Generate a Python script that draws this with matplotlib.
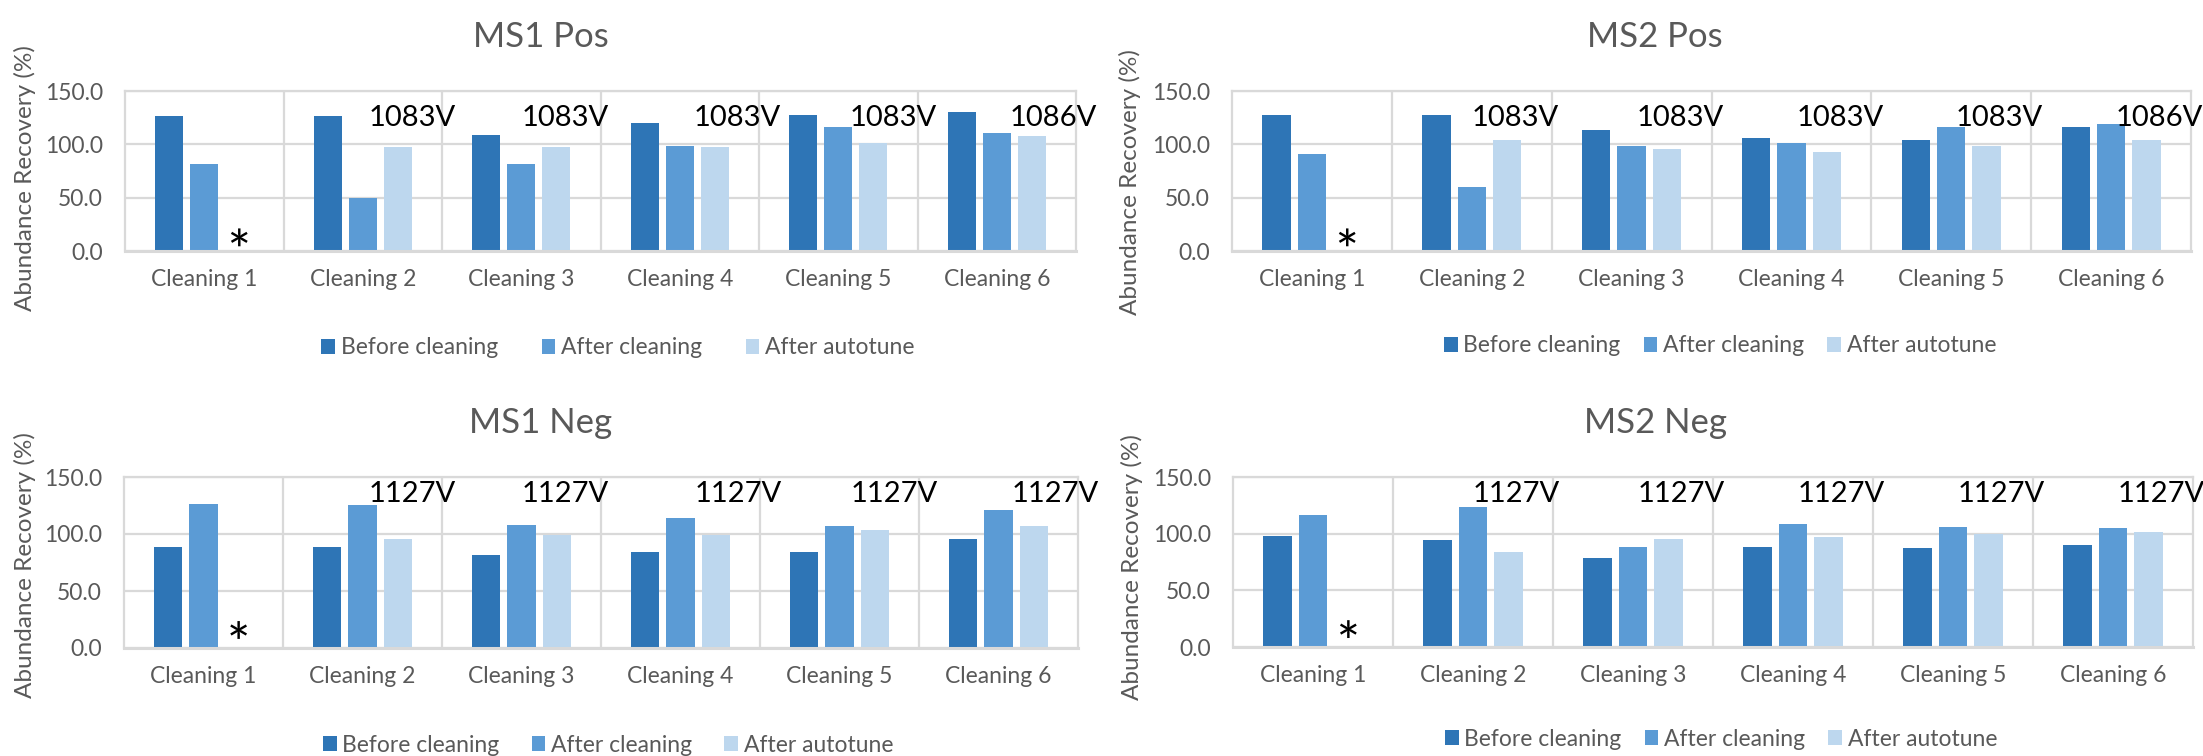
import numpy as np
import matplotlib.pyplot as plt
from matplotlib.patches import Patch, PathPatch
from matplotlib.path import Path
from matplotlib.textpath import TextPath
from matplotlib.font_manager import FontProperties
from matplotlib.transforms import Affine2D, ScaledTranslation

plt.rcParams['font.family'] = ['Lato', 'DejaVu Sans']

# ---- data ----
cleanings = ['Cleaning 1', 'Cleaning 2', 'Cleaning 3', 'Cleaning 4', 'Cleaning 5', 'Cleaning 6']
series_names = ['Before cleaning', 'After cleaning', 'After autotune']
y_ticks = [0, 50, 100, 150]

ms1_pos_before = [126.6, 126.6, 108.4, 120.0, 127.8, 130.4]
ms1_pos_after = [81.3, 50.0, 81.3, 98.1, 116.0, 110.6]
ms1_pos_autotune = [np.nan, 97.2, 97.2, 97.2, 101.6, 107.8]
ms1_pos_volts = [None, '1083V', '1083V', '1083V', '1083V', '1086V']

ms2_pos_before = [127.8, 127.8, 113.4, 106.3, 104.4, 116.3]
ms2_pos_after = [90.9, 60.3, 98.1, 101.6, 116.3, 119.4]
ms2_pos_autotune = [np.nan, 104.4, 95.3, 93.1, 98.4, 103.8]
ms2_pos_volts = [None, '1083V', '1083V', '1083V', '1083V', '1086V']

ms1_neg_before = [89.0, 88.7, 82.0, 84.6, 84.6, 96.0]
ms1_neg_after = [126.4, 125.8, 108.3, 113.8, 106.8, 121.4]
ms1_neg_autotune = [np.nan, 95.7, 99.5, 99.2, 103.3, 106.8]
ms1_neg_volts = [None, '1127V', '1127V', '1127V', '1127V', '1127V']

ms2_neg_before = [97.6, 94.7, 78.8, 88.5, 87.1, 89.7]
ms2_neg_after = [116.2, 123.8, 88.5, 108.8, 105.9, 104.7]
ms2_neg_autotune = [np.nan, 83.8, 95.3, 97.1, 100.0, 101.2]
ms2_neg_volts = [None, '1127V', '1127V', '1127V', '1127V', '1127V']

# ---- style ----
W, H = 2203, 756
DPI = 100
colors = ['#2E75B6', '#5B9BD5', '#BDD7EE']
grid_c = '#D9D9D9'
text_c = '#595959'
BAR_W = 0.177
STEP = 0.221
FS = 16.5
VOLT_FS = 21

# asterisk outline, centred on its own glyph box (units: points)
_tp = TextPath((0, 0), '*', size=40, prop=FontProperties(family='Lato'))
_ext = _tp.get_extents()
star_path = Path(_tp.vertices - [(_ext.x0 + _ext.x1) / 2, (_ext.y0 + _ext.y1) / 2],
                 _tp.codes)


def frac_rect(x0, y0, x1, y1):
    # pixel box (top-left origin) -> figure fraction rect
    return [x0 / W, 1 - y1 / H, (x1 - x0) / W, (y1 - y0) / H]


def draw_panel(fig, rect, title, title_xy, ylab_xy, series, volts, volt_dx, volt_y,
               star_y, leg_xy, colspace):
    ax = fig.add_axes(rect)
    x = np.arange(len(cleanings))
    for k, vals in enumerate(series):
        ax.bar(x + (k - 1) * STEP, np.array(vals, dtype=float), width=BAR_W,
               color=colors[k], zorder=2)

    ax.set_xlim(-0.5, len(cleanings) - 0.5)
    ax.set_ylim(0, 150)
    ax.set_yticks(y_ticks)
    ax.set_yticklabels([f'{v:.1f}' for v in y_ticks])
    ax.set_xticks(x)
    ax.set_xticklabels(cleanings)
    ax.set_xticks(x[:-1] + 0.5, minor=True)
    ax.tick_params(which='both', length=0, labelsize=FS, colors=text_c)
    ax.tick_params(axis='y', pad=16)
    ax.tick_params(axis='x', pad=13)
    ax.yaxis.grid(True, color=grid_c, lw=1.6)
    ax.xaxis.grid(True, which='minor', color=grid_c, lw=1.6)
    ax.set_axisbelow(True)
    for s in ax.spines.values():
        s.set_color(grid_c)
        s.set_linewidth(1.6)
    ax.spines['bottom'].set_linewidth(2.2)

    # voltage notes above each group
    for i, v in enumerate(volts):
        if v:
            ax.text(i + volt_dx[i], volt_y, v, ha='left', va='center',
                    fontsize=VOLT_FS, color='black')

    # asterisk where autotune was not measured
    for i, v in enumerate(series[2]):
        if np.isnan(v):
            tr = Affine2D().scale(DPI / 72) + ScaledTranslation(i + STEP, star_y, ax.transData)
            ax.add_patch(PathPatch(star_path, transform=tr, facecolor='black',
                                   edgecolor='none', clip_on=False, zorder=3))

    fig.text(title_xy[0] / W, 1 - title_xy[1] / H, title, ha='center', va='center',
             fontsize=25, color=text_c)
    fig.text(ylab_xy[0] / W, 1 - ylab_xy[1] / H, 'Abundance Recovery (%)',
             rotation=90, ha='center', va='center', fontsize=17.5, color=text_c)

    handles = [Patch(facecolor=c) for c in colors]
    ax.legend(handles, series_names, loc='center', ncol=3, frameon=False,
              bbox_to_anchor=(leg_xy[0] / W, 1 - leg_xy[1] / H),
              bbox_transform=fig.transFigure, fontsize=FS, labelcolor=text_c,
              handlelength=0.6, handleheight=0.6, handletextpad=0.25,
              columnspacing=colspace)
    return ax


fig = plt.figure(figsize=(W / DPI, H / DPI), dpi=DPI)

left_dx = [0, 0.04, 0.0, 0.09, 0.07, 0.08]
right_dx = [0, 0.0, 0.03, 0.03, 0.03, 0.03]

draw_panel(fig, frac_rect(125, 91, 1076, 251), 'MS1 Pos', (541, 37), (25, 178),
           [ms1_pos_before, ms1_pos_after, ms1_pos_autotune], ms1_pos_volts, left_dx,
           125, 12.8, (618, 348), 1.9)
draw_panel(fig, frac_rect(1232, 91, 2191, 251), 'MS2 Pos', (1655, 37), (1130, 182),
           [ms2_pos_before, ms2_pos_after, ms2_pos_autotune], ms2_pos_volts, right_dx,
           125, 12.8, (1720, 346), 1.0)
draw_panel(fig, frac_rect(124, 477, 1078, 648), 'MS1 Neg', (541, 423), (25, 565),
           [ms1_neg_before, ms1_neg_after, ms1_neg_autotune], ms1_neg_volts, left_dx,
           135, 15.8, (608, 745), 1.4)
draw_panel(fig, frac_rect(1233, 477, 2193, 647), 'MS2 Neg', (1655, 423), (1132, 567),
           [ms2_neg_before, ms2_neg_after, ms2_neg_autotune], ms2_neg_volts, right_dx,
           135, 15.8, (1721, 739), 1.0)

fig.savefig('out.png', dpi=DPI)
